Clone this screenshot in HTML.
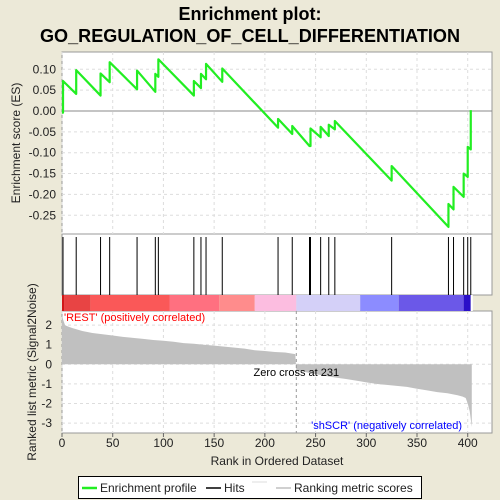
<!DOCTYPE html>
<html><head><meta charset="utf-8"><style>
body{margin:0;background:#ece9d8;}
svg{display:block;font-family:"Liberation Sans",Arial,sans-serif;}
</style></head><body>
<svg id="chart" width="500" height="500" viewBox="0 0 500 500">
<rect x="0" y="0" width="500" height="500" fill="#ece9d8"/>
<text x="250" y="20" text-anchor="middle" font-weight="bold" font-size="18">Enrichment plot:</text>
<text x="250" y="42" text-anchor="middle" font-weight="bold" font-size="18" textLength="420" lengthAdjust="spacingAndGlyphs">GO_REGULATION_OF_CELL_DIFFERENTIATION</text>
<g id="g"></g>
</svg>
<script>
const hitRanks=[1,14,38,47,74,92,95,130,137,142,158,213,227,244,245,255,263,269,325,381,386,396,400,403];
const esBefore=[-0.004,0.041,0.037,0.069,0.052,0.046,0.082,0.037,0.055,0.076,0.070,-0.040,-0.055,-0.084,-0.084,-0.063,-0.060,-0.044,-0.167,-0.278,-0.236,-0.206,-0.158,-0.092];
const esAfter=[0.072,0.098,0.090,0.117,0.097,0.089,0.124,0.072,0.089,0.113,0.102,-0.019,-0.036,-0.084,-0.042,-0.038,-0.033,-0.024,-0.132,-0.223,-0.182,-0.150,-0.086,0.002];
const metricRanks=[0,1,3,5,10,20,30,40,50,60,70,80,90,100,110,120,130,140,150,160,170,180,190,200,210,220,230,231,240,250,260,270,280,290,300,310,320,330,340,350,360,370,380,390,395,398,400,402,404];
const metricValues=[2.5,2.3,2.0,1.95,1.85,1.7,1.6,1.53,1.47,1.4,1.35,1.3,1.24,1.2,1.15,1.08,1.05,1.0,0.95,0.9,0.85,0.8,0.72,0.68,0.63,0.6,0.52,-0.3,-0.4,-0.5,-0.6,-0.68,-0.75,-0.83,-0.92,-1.0,-1.05,-1.1,-1.15,-1.25,-1.33,-1.42,-1.48,-1.58,-1.65,-1.72,-2.0,-2.4,-3.2];
const esTicks=[0.10,0.05,0.00,-0.05,-0.10,-0.15,-0.20,-0.25];
const esTickLabels=["0.10","0.05","0.00","-0.05","-0.10","-0.15","-0.20","-0.25"];
const metricTicks=[2,1,0,-1,-2,-3];
const xTicks=[0,50,100,150,200,250,300,350,400];
const colorStops=[0,2,28,106,155,190,231,294,332,396,403,405];
const colorFills=["#d01818","#e84444","#fa5858","#ff7080","#ff8c8c","#fcbde0","#d4d0f8","#8c8cff","#6b58e8","#2a10c8","#ffffff"];
const L=62,R=492,T1=52,B1=234,T2=295,B2=311,T3=311,B3=433;
const X=r=>L+r*1.0143;
const YE=v=>111-v*417;
const YM=v=>364.3-v*19.6;
const NS="http://www.w3.org/2000/svg";
const g=document.getElementById('g');
function el(t,a,p){const e=document.createElementNS(NS,t);for(const k in a)e.setAttribute(k,a[k]);(p||g).appendChild(e);return e;}
// panels
let p1=el('rect',{x:L,y:T1,width:R-L,height:B1-T1,fill:'#fff',stroke:'#999'});


let p2=el('rect',{x:L,y:B1,width:R-L,height:T2-B1,fill:'#fff',stroke:'#999'});


let p3=el('rect',{x:L,y:T3,width:R-L,height:B3-T3,fill:'#fff',stroke:'#999'});


// grids
xTicks.forEach(t=>{
 let a=el('line',{x1:X(t),x2:X(t),y1:T1,y2:B1,stroke:'#ddd','stroke-dasharray':'3,3'});
 
 
 let b=el('line',{x1:X(t),x2:X(t),y1:T3,y2:B3,stroke:'#ddd','stroke-dasharray':'3,3'});
 
 
 let tk=el('line',{x1:X(t),x2:X(t),y1:B3,y2:B3+4,stroke:'#666'});
 
 
 let tx=el('text',{x:X(t),y:B3+14,'text-anchor':'middle','font-size':12,fill:'#222'});
 tx.textContent=t;
 
 
});
esTicks.forEach((t,i)=>{
 let a=el('line',{x1:L,x2:R,y1:YE(t),y2:YE(t),stroke:t===0?'#888':'#ddd','stroke-dasharray':t===0?'':'3,3'});
 
 
 let tx=el('text',{x:L-6,y:YE(t)+4,'text-anchor':'end','font-size':12,fill:'#222'});
 tx.textContent=esTickLabels[i];
 
 
});
metricTicks.forEach(t=>{
 let a=el('line',{x1:L,x2:R,y1:YM(t),y2:YM(t),stroke:'#ddd','stroke-dasharray':'3,3'});
 
 
 let tx=el('text',{x:L-10,y:YM(t)+4,'text-anchor':'end','font-size':12,fill:'#222'});
 tx.textContent=t;
 
 
});
// metric area
let d='M'+X(0)+','+YM(0);
metricRanks.forEach((r,i)=>{d+=' L'+X(r)+','+YM(metricValues[i]);});
d+=' L'+X(metricRanks[metricRanks.length-1])+','+YM(0)+' Z';
let ma=el('path',{d:d,fill:'#c0c0c0'});


let zc=el('line',{x1:X(231),x2:X(231),y1:T3,y2:B3,stroke:'#999','stroke-dasharray':'3,3'});


let zt=el('text',{x:X(231),y:376,'text-anchor':'middle','font-size':11,fill:'#000'});
zt.textContent='Zero cross at 231';


let pl=el('text',{x:64,y:321,'font-size':11,fill:'#f00'});
pl.textContent="'REST' (positively correlated)";


let nl=el('text',{x:X(320),y:429,'text-anchor':'middle','font-size':11,fill:'#00f'});
nl.textContent="'shSCR' (negatively correlated)";


// color bar
colorFills.forEach((c,i)=>{
 let r=el('rect',{x:X(colorStops[i]),y:T2,width:X(colorStops[i+1])-X(colorStops[i]),height:B2-T2,fill:c});
 
 
});
// hits
hitRanks.forEach(r=>{
 let h=el('line',{x1:X(r),x2:X(r),y1:B1+3,y2:T2,stroke:'#000','stroke-width':1});
 
 
});
// ES line
let pts=[[X(0),YE(esBefore[0])]];
hitRanks.forEach((r,i)=>{pts.push([X(r),YE(esBefore[i])]);pts.push([X(r),YE(esAfter[i])]);});
let es=el('polyline',{points:pts.map(p=>p.join(',')).join(' '),fill:'none',stroke:'#22ee22','stroke-width':2.2,'stroke-linejoin':'round'});


// axis titles
let yt=el('text',{x:0,y:0,'text-anchor':'middle','font-size':12,fill:'#222',transform:'translate(20,143) rotate(-90)'});
yt.textContent='Enrichment score (ES)';


let yt2=el('text',{x:0,y:0,'text-anchor':'middle','font-size':12,fill:'#222',transform:'translate(36,372) rotate(-90)'});
yt2.textContent='Ranked list metric (Signal2Noise)';


let xt=el('text',{x:277,y:465,'text-anchor':'middle','font-size':12,fill:'#222'});
xt.textContent='Rank in Ordered Dataset';


// legend
let lg=el('g',{});


el('rect',{x:78.5,y:476.5,width:343,height:22,fill:'#fff',stroke:'#000'},lg);
el('line',{x1:82,x2:97,y1:488,y2:488,stroke:'#22ee22','stroke-width':2.5},lg);
let t1=el('text',{x:100,y:492,'font-size':12,fill:'#222'},lg);t1.textContent='Enrichment profile';


el('line',{x1:206,x2:221,y1:488,y2:488,stroke:'#000','stroke-width':1.5},lg);
let t2=el('text',{x:224,y:492,'font-size':12,fill:'#222'},lg);t2.textContent='Hits';


el('line',{x1:252,x2:267,y1:482,y2:482,stroke:'#ddd','stroke-width':1},lg);
el('line',{x1:276,x2:291,y1:488,y2:488,stroke:'#c0c0c0','stroke-width':1.5},lg);
let t3=el('text',{x:294,y:492,'font-size':12,fill:'#222'},lg);t3.textContent='Ranking metric scores';


</script>
</body></html>
